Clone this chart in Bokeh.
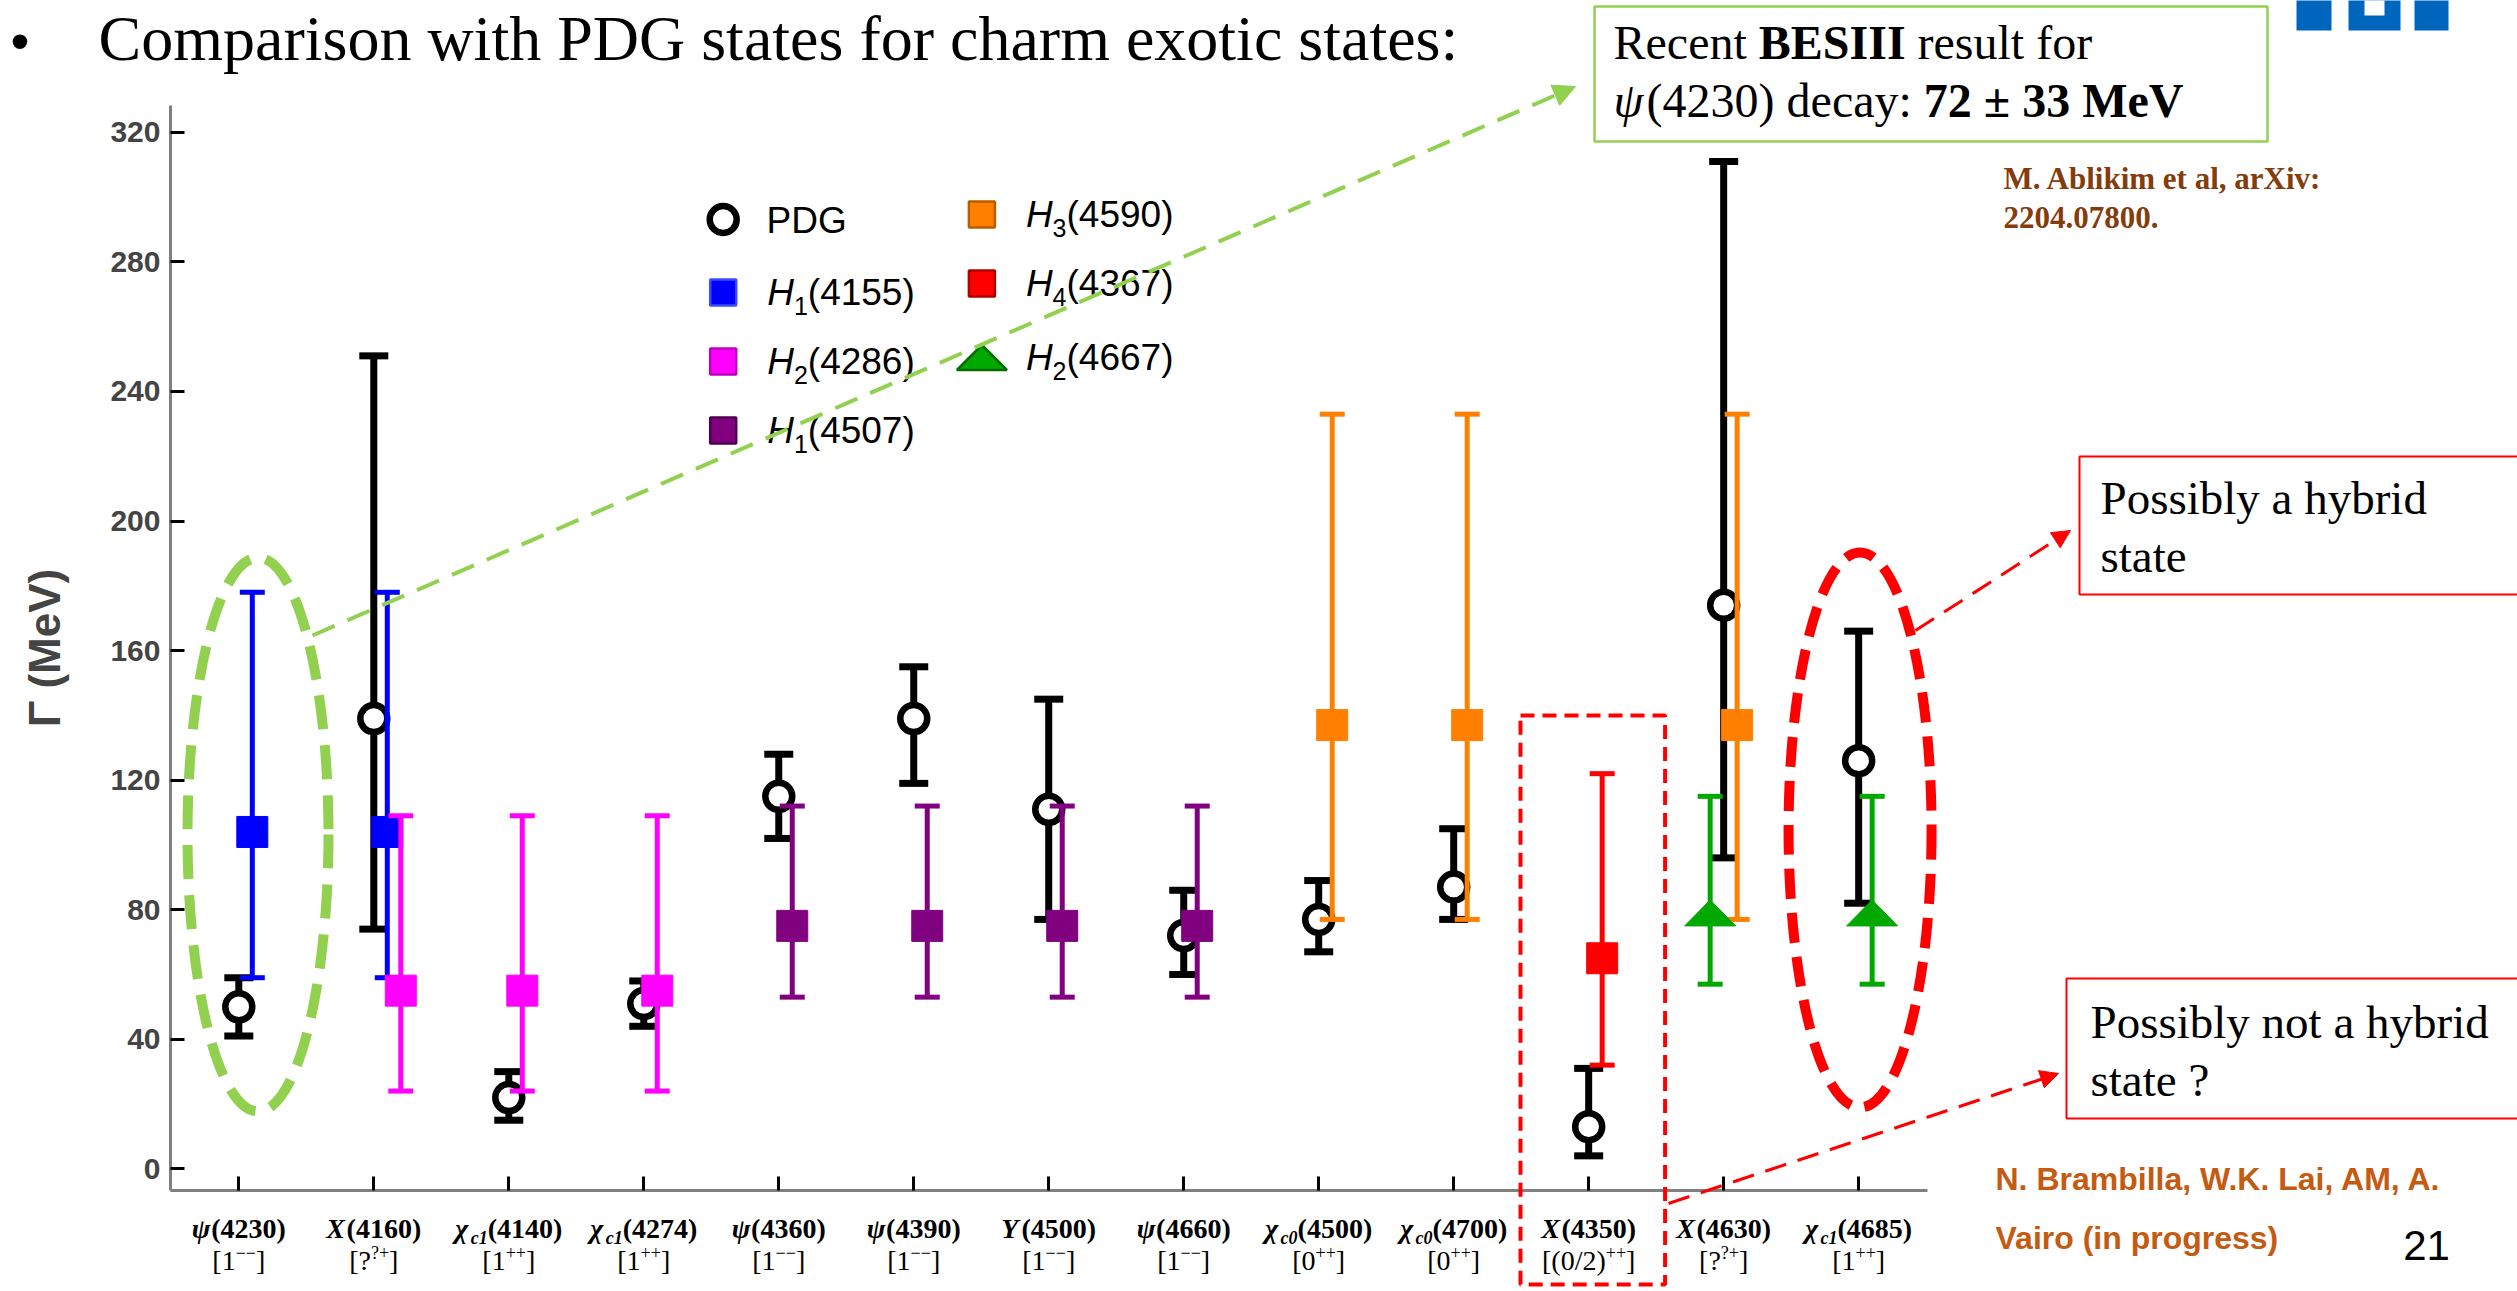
from bokeh.plotting import figure
from bokeh.models import Range1d, FixedTicker, Label, BoxAnnotation, Arrow, NormalHead
from bokeh.embed import file_html
from bokeh.resources import INLINE

# ---------------- data ----------------
# charmonium-like states (x axis): symbol, subscript, mass, J^PC
state_symbol = ["ψ", "X", "χ", "χ", "ψ", "ψ", "Y", "ψ", "χ", "χ", "X", "X", "χ"]
state_sub = ["", "", "c1", "c1", "", "", "", "", "c0", "c0", "", "", "c1"]
state_mass = ["(4230)", "(4160)", "(4140)", "(4274)", "(4360)", "(4390)", "(4500)",
              "(4660)", "(4500)", "(4700)", "(4350)", "(4630)", "(4685)"]
jpc_base = ["1", "?", "1", "1", "1", "1", "1", "1", "0", "0", "(0/2)", "?", "1"]
jpc_sup = ["−−", "?+", "++", "++", "−−", "−−", "−−", "−−", "++", "++", "++", "?+", "++"]

# PDG widths Γ (MeV) and their error ranges
pdg_width = [50, 139, 22, 51, 115, 139, 111, 72, 77, 87, 13, 174, 126]
pdg_upper = [59, 251, 30, 58, 128, 155, 145, 86, 89, 105, 31, 311, 166]
pdg_lower = [41, 74, 15, 44, 102, 119, 77, 60, 67, 77, 4, 96, 82]

# hybrid predictions: H_index(mass), width and range, states they are compared with
hyb_index = ["1", "2", "1", "3", "4", "2"]
hyb_mass = ["(4155)", "(4286)", "(4507)", "(4590)", "(4367)", "(4667)"]
hyb_width = [104, 55, 75, 137, 65, 79]
hyb_upper = [178, 109, 112, 233, 122, 115]
hyb_lower = [59, 24, 53, 77, 32, 57]
hyb_states = [[0, 1], [1, 2, 3], [4, 5, 6, 7], [8, 9, 11], [10], [11, 12]]

# ---------------- styling ----------------
hyb_color = ["#0000FF", "#FF00FF", "#800080", "#FF8000", "#FF0000", "#00A800"]
hyb_edge = ["#3a4dff", "#c000c0", "#4d004d", "#b85c00", "#b00000", "#006e00"]
hyb_dodge = [[0.1, 0.1], [0.2, 0.1, 0.1], [0.1] * 4, [0.1] * 3, [0.1], [-0.1, 0.1]]

W, H = 2517, 1291
# pixel box of the axes on the page
AX_L, AX_R, AX_T, AX_B = 170, 1927, 105, 1190
X_LO, X_HI = -0.506, 12.51
Y_LO, Y_HI = -6.7, 328.3
SX = (X_HI - X_LO) / (AX_R - AX_L)   # data units per pixel
SY = (Y_HI - Y_LO) / (AX_B - AX_T)


def fx(px):
    return X_LO + (px - AX_L) * SX


def fy(py):
    return Y_HI - (py - AX_T) * SY


SERIF = "Liberation Serif"
SANS = "Liberation Sans"
BASE_FIX = 0.32   # baseline correction, fraction of the font size

_tr = dict(zip("abcdefghijklmnopqrstuvwxyz",
               [.444, .5, .444, .5, .444, .333, .5, .5, .278, .278, .5, .278, .778, .5, .5, .5, .5,
                .333, .389, .278, .5, .5, .722, .5, .5, .444]))
_tr.update(zip("ABCDEFGHIJKLMNOPQRSTUVWXYZ",
               [.722, .667, .667, .722, .611, .556, .722, .722, .333, .389, .722, .611, .889, .722,
                .722, .556, .722, .667, .556, .611, .722, .722, .944, .722, .722, .611]))
_tr.update({c: .5 for c in "0123456789"})
_tr.update({" ": .25, "(": .333, ")": .333, "[": .333, "]": .333, "/": .278, ".": .25,
            ",": .25, ":": .278, "?": .444, "+": .564, "−": .564, "±": .564, "ψ": .69, "χ": .55})
_tb = dict(_tr)
_tb.update(zip("abcdefghijklmnopqrstuvwxyz",
               [.5, .556, .444, .556, .444, .333, .5, .556, .278, .333, .556, .278, .833, .556, .5,
                .556, .556, .444, .389, .333, .556, .5, .722, .5, .5, .444]))
_tb.update(zip("ABCDEFGHIJKLMNOPQRSTUVWXYZ",
               [.722, .667, .722, .722, .667, .611, .778, .778, .389, .5, .778, .667, .944, .722,
                .778, .611, .778, .722, .556, .667, .722, .722, 1.0, .722, .722, .667]))
_tb.update({"?": .5, "+": .57, "−": .57, "±": .57, ":": .333})
_ts = {c: .556 for c in "0123456789"}
_ts.update({" ": .278, "(": .333, ")": .333, "H": .722, "P": .667, "D": .722, "G": .778})


def text_w(t, fam, size, style):
    if fam == SANS:
        table = _ts
    else:
        table = _tb if "bold" in style else _tr
    return sum(table.get(ch, .5) for ch in t) * size


p = figure(width=W, height=H, x_range=Range1d(fx(0), fx(W)), y_range=Range1d(fy(H), fy(0)),
           output_backend="svg", toolbar_location=None,
           min_border=0, min_border_left=0, min_border_right=0,
           min_border_top=0, min_border_bottom=0,
           background_fill_color="white", border_fill_color="white")
p.outline_line_color = None
p.grid.visible = False

# axes, pinned at the corner of the chart box
for ax in (p.xaxis, p.yaxis):
    ax.axis_line_color = "#808080"
    ax.axis_line_width = 3
    ax.major_tick_line_color = "black"
    ax.major_tick_line_width = 3
    ax.major_tick_in = 14
    ax.major_tick_out = 0
    ax.minor_tick_line_color = None
p.xaxis.fixed_location = Y_LO
p.xaxis.bounds = (X_LO, X_HI)
p.yaxis.fixed_location = X_LO
p.yaxis.bounds = (Y_LO, Y_HI)
p.xaxis.ticker = FixedTicker(ticks=list(range(len(state_mass))))
p.xaxis.major_label_overrides = {i: "" for i in range(len(state_mass))}
p.yaxis.ticker = FixedTicker(ticks=list(range(0, 321, 40)))
p.yaxis.major_label_text_font = SANS
p.yaxis.major_label_text_font_style = "bold"
p.yaxis.major_label_text_font_size = "30px"
p.yaxis.major_label_standoff = 10
p.yaxis.axis_label = "Γ (MeV)"
p.yaxis.axis_label_text_font = SANS
p.yaxis.axis_label_text_font_style = "bold"
p.yaxis.axis_label_text_font_size = "44px"
p.yaxis.axis_label_standoff = 38


def run(xd, yd, pieces, align="left"):
    """Lay out differently styled text pieces on one baseline."""
    widths = [text_w(t, fam, size, style) for t, fam, size, style, color, rise in pieces]
    off = -sum(widths) / 2 if align == "center" else 0.0
    for (t, fam, size, style, color, rise), w in zip(pieces, widths):
        lead = text_w(t[:len(t) - len(t.lstrip(" "))], fam, size, style)
        p.add_layout(Label(x=xd, y=yd + (rise + BASE_FIX * size) * SY, x_offset=off + lead,
                           text=t.strip(" "), text_font=fam,
                           text_font_size=f"{size}px", text_font_style=style,
                           text_color=color, text_align="left", text_baseline="alphabetic"))
        off += w


# ---------------- PDG states ----------------
xs = list(range(len(pdg_width)))
p.segment(x0=xs, y0=pdg_lower, x1=xs, y1=pdg_upper, line_color="black", line_width=7)
p.scatter(x=xs + xs, y=pdg_upper + pdg_lower, marker="dash", size=29,
          line_color="black", line_width=7)
p.scatter(x=xs, y=pdg_width, marker="circle", size=27, fill_color="white",
          line_color="black", line_width=6.5)

# ---------------- hybrid predictions ----------------
TRI_HW, TRI_HH = 25.5, 13.0
for k in range(len(hyb_width)):
    hx = [s + d for s, d in zip(hyb_states[k], hyb_dodge[k])]
    n = len(hx)
    lo, hi, val = [hyb_lower[k]] * n, [hyb_upper[k]] * n, [hyb_width[k]] * n
    p.segment(x0=hx, y0=lo, x1=hx, y1=hi, line_color=hyb_color[k], line_width=5)
    p.scatter(x=hx + hx, y=hi + lo, marker="dash", size=25, line_color=hyb_color[k], line_width=5)
    if k == len(hyb_width) - 1:
        tx = [[x - TRI_HW * SX, x + TRI_HW * SX, x] for x in hx]
        ty = [[v - TRI_HH * SY, v - TRI_HH * SY, v + TRI_HH * SY] for v in val]
        p.patches(tx, ty, fill_color=hyb_color[k], line_color=hyb_color[k], line_width=1)
    else:
        p.scatter(x=hx, y=val, marker="square", size=31, fill_color=hyb_color[k],
                  line_color=hyb_color[k], line_width=1)

# ---------------- legend ----------------
leg_x = [722.7, 722.7, 722.7, 981.4, 981.4, 981.4]
leg_y = [292, 361, 430, 214, 283, 357]
p.scatter(x=[fx(722.7)], y=[fy(219)], marker="circle", size=27, fill_color="white",
          line_color="black", line_width=6.5)
run(fx(766), fy(219 + 13), [("PDG", SANS, 37, "normal", "black", 0)])
for k in range(len(hyb_index)):
    mx, my = fx(leg_x[k]), fy(leg_y[k])
    if k == len(hyb_index) - 1:
        p.patch([mx - 25 * SX, mx + 25 * SX, mx], [my - 12.5 * SY, my - 12.5 * SY, my + 12.5 * SY],
                fill_color=hyb_color[k], line_color=hyb_edge[k], line_width=2.5)
    else:
        p.scatter(x=[mx], y=[my], marker="square", size=26, fill_color=hyb_color[k],
                  line_color=hyb_edge[k], line_width=2.5)
    run(fx(leg_x[k] + 44), fy(leg_y[k] + 12),
        [("H", SANS, 37, "italic", "black", 0),
         (hyb_index[k], SANS, 25, "normal", "black", -9),
         (hyb_mass[k], SANS, 37, "normal", "black", 0)])

# ---------------- state labels under the axis ----------------
for i in range(len(state_mass)):
    line1 = [(state_symbol[i], SERIF, 28, "bold italic", "black", 0)]
    if state_sub[i]:
        line1.append((state_sub[i], SERIF, 18, "bold italic", "black", -6))
    line1.append((state_mass[i], SERIF, 28, "bold", "black", 0))
    run(i, fy(1237), line1, align="center")
    line2 = [("[" + jpc_base[i], SERIF, 28, "normal", "black", 0),
             (jpc_sup[i], SERIF, 18, "normal", "black", 11),
             ("]", SERIF, 28, "normal", "black", 0)]
    run(i, fy(1269), line2, align="center")

# ---------------- highlights ----------------
GREEN = "#92D050"
p.ellipse(x=[0 + fx(257.5) - fx(238.3)], y=[fy(834)], width=141 * SX, height=554 * SY,
          fill_color=None, line_color=GREEN, line_width=10, line_dash="34 16")
p.ellipse(x=[12 + fx(1859.7) - fx(1858.3)], y=[fy(829.5)], width=143 * SX, height=555 * SY,
          fill_color=None, line_color="#FF0000", line_width=10, line_dash="30 14")
p.add_layout(BoxAnnotation(left=fx(1520), right=fx(1664.6), top=fy(715), bottom=fy(1284),
                           fill_color=None, fill_alpha=0, line_color="#FF0000", line_alpha=1,
                           line_width=4, line_dash="14 8"))

# arrows to the note boxes
p.add_layout(Arrow(x_start=fx(312), y_start=fy(635), x_end=fx(1575), y_end=fy(86),
                   line_color=GREEN, line_width=4, line_dash="24 14",
                   end=NormalHead(size=22, fill_color=GREEN, line_color=GREEN)))
p.add_layout(Arrow(x_start=fx(1915), y_start=fy(630), x_end=fx(2070), y_end=fy(530),
                   line_color="#FF0000", line_width=3, line_dash="22 12",
                   end=NormalHead(size=18, fill_color="#FF0000", line_color="#FF0000")))
p.add_layout(Arrow(x_start=fx(1668), y_start=fy(1203), x_end=fx(2058), y_end=fy(1073),
                   line_color="#FF0000", line_width=3, line_dash="22 12",
                   end=NormalHead(size=18, fill_color="#FF0000", line_color="#FF0000")))

# ---------------- note boxes ----------------
p.add_layout(BoxAnnotation(left=fx(1594), right=fx(2267), top=fy(6), bottom=fy(141),
                           fill_color="white", fill_alpha=1, line_color=GREEN, line_alpha=1,
                           line_width=2.5))
run(fx(1613), fy(57), [("Recent ", SERIF, 48, "normal", "black", 0),
                       ("BESIII", SERIF, 48, "bold", "black", 0),
                       (" result for", SERIF, 48, "normal", "black", 0)])
run(fx(1613), fy(115), [("ψ", SERIF, 48, "italic", "black", 0),
                        ("(4230)", SERIF, 48, "normal", "black", 0),
                        (" decay: ", SERIF, 48, "normal", "black", 0),
                        ("72 ± 33 MeV", SERIF, 48, "bold", "black", 0)])

p.add_layout(BoxAnnotation(left=fx(2079), right=fx(2540), top=fy(456), bottom=fy(594),
                           fill_color="white", fill_alpha=1, line_color="#FF0000", line_alpha=1,
                           line_width=2))
run(fx(2100), fy(513), [("Possibly a hybrid", SERIF, 47, "normal", "black", 0)])
run(fx(2100), fy(571), [("state", SERIF, 47, "normal", "black", 0)])
p.add_layout(BoxAnnotation(left=fx(2066), right=fx(2540), top=fy(978), bottom=fy(1118),
                           fill_color="white", fill_alpha=1, line_color="#FF0000", line_alpha=1,
                           line_width=2))
run(fx(2090), fy(1037), [("Possibly not a hybrid", SERIF, 47, "normal", "black", 0)])
run(fx(2090), fy(1095), [("state ?", SERIF, 47, "normal", "black", 0)])

# ---------------- slide texts ----------------
run(fx(10), fy(58), [("•", SANS, 54, "normal", "black", 0)])
run(fx(98), fy(58), [("Comparison with PDG states for charm exotic states:", SERIF, 64,
                      "normal", "black", 0)])
run(fx(2003), fy(188), [("M. Ablikim et al, arXiv:", SERIF, 31, "bold", "#843C0C", 0)])
run(fx(2003), fy(227), [("2204.07800.", SERIF, 31, "bold", "#843C0C", 0)])
run(fx(1995), fy(1189), [("N. Brambilla, W.K. Lai, AM, A.", SANS, 32, "bold", "#C55A11", 0)])
run(fx(1995), fy(1248), [("Vairo (in progress)", SANS, 32, "bold", "#C55A11", 0)])
p.add_layout(Label(x=fx(2426), y=fy(1258) + BASE_FIX * 42 * SY, text="21", text_font=SANS,
                   text_font_size="42px", text_color="black", text_align="center",
                   text_baseline="alphabetic"))

# logo fragment at the top edge
TUM_BLUE = "#0065BD"
for l, r in [(2296, 2331), (2348, 2400), (2414, 2448)]:
    p.add_layout(BoxAnnotation(left=fx(l), right=fx(r), top=fy(-5), bottom=fy(30),
                               fill_color=TUM_BLUE, fill_alpha=1, line_color=None))
p.add_layout(BoxAnnotation(left=fx(2364), right=fx(2384), top=fy(-5), bottom=fy(15),
                           fill_color="white", fill_alpha=1, line_color=None))

open("out.html", "w").write(file_html(p, INLINE))
